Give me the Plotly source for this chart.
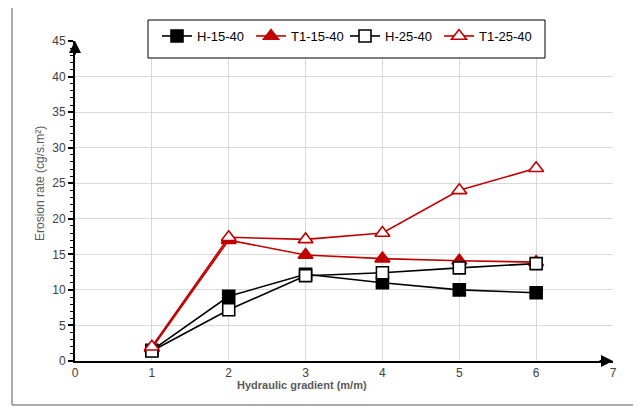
import plotly.graph_objects as go

x_vals = [1, 2, 3, 4, 5, 6]
h_15_40 = [1.5, 9.1, 12.2, 11.0, 10.0, 9.6]
t1_15_40 = [1.8, 17.0, 14.9, 14.4, 14.1, 13.9]
h_25_40 = [1.4, 7.2, 12.0, 12.4, 13.1, 13.7]
t1_25_40 = [2.0, 17.4, 17.1, 18.0, 24.0, 27.1]

x_ticks = [0, 1, 2, 3, 4, 5, 6, 7]
y_ticks = [0, 5, 10, 15, 20, 25, 30, 35, 40, 45]

RED = "#C00000"
FONT = "Liberation Sans, Arial, sans-serif"

fig = go.Figure()

def add(name, y, color, symbol, fill, lcolor):
    fig.add_trace(go.Scatter(
        x=x_vals, y=y, name=name, mode="lines+markers",
        line=dict(color=color, width=1.6),
        marker=dict(symbol=symbol, size=12 if "square" in symbol else 13,
                    color=fill, line=dict(color=lcolor, width=1.6)),
        cliponaxis=False,
    ))

add("H-15-40", h_15_40, "black", "square", "black", "black")
add("T1-15-40", t1_15_40, RED, "triangle-up", RED, RED)
add("H-25-40", h_25_40, "black", "square", "white", "black")
add("T1-25-40", t1_25_40, RED, "triangle-up", "white", RED)

OFF = 8  # page body margin
W, H = 641, 409
# target plot area in page pixels
PX0, PX1, PY0, PY1 = 75, 613, 41, 361
L = PX0 - OFF
T = PY0 - OFF
R = W - (PX1 - OFF)
B = H - (PY1 - OFF)
pw, ph = PX1 - PX0, PY1 - PY0

def px_x(p):
    return (p - PX0) / pw

def px_y(p):
    return (PY1 - p) / ph

fig.update_layout(
    width=W, height=H,
    margin=dict(l=L, r=R, t=T, b=B, autoexpand=False),
    paper_bgcolor="white", plot_bgcolor="white",
    font=dict(family=FONT, size=12, color="#404040"),
    showlegend=True,
    legend=dict(
        orientation="h", x=px_x(157), y=px_y(21), xanchor="left", yanchor="top",
        borderwidth=0, bgcolor="rgba(0,0,0,0)",
        font=dict(family=FONT, size=13, color="black"),
        entrywidth=49, entrywidthmode="pixels",
        tracegroupgap=0,
    ),
    xaxis=dict(
        range=[0, 7], tickvals=x_ticks, ticktext=[str(v) for v in x_ticks],
        showgrid=True, gridcolor="#d9d9d9", gridwidth=1,
        showline=True, linecolor="black", linewidth=2,
        zeroline=False, ticks="", tickfont=dict(size=12, color="#404040"),
    ),
    yaxis=dict(
        range=[0, 45], tickvals=y_ticks, ticktext=[str(v) for v in y_ticks],
        showgrid=True, gridcolor="#d9d9d9", gridwidth=1,
        showline=True, linecolor="black", linewidth=2,
        zeroline=False, ticks="outside", ticklen=5, tickwidth=1.5, tickcolor="black",
        minor=dict(dtick=1, ticks="outside", ticklen=3, tickwidth=1, tickcolor="black",
                   showgrid=False),
        tickfont=dict(size=12, color="#404040"),
    ),
)

# axis titles
fig.add_annotation(text="<b>Hydraulic gradient (m/m)</b>", xref="paper", yref="paper",
                   x=px_x(302), y=px_y(393), showarrow=False,
                   font=dict(family=FONT, size=11, color="#595959"))
fig.add_annotation(text="Erosion rate (cg/s.m²)", xref="paper", yref="paper",
                   x=px_x(31), y=px_y(184), showarrow=False, textangle=-90,
                   font=dict(family=FONT, size=12, color="#595959"))

# arrow heads on axes
fig.add_annotation(x=7, y=0, xref="x", yref="y", ax=-15, ay=0, showarrow=True,
                   arrowhead=2, arrowsize=1.2, arrowwidth=2, arrowcolor="black", text="")
fig.add_annotation(x=0, y=45, xref="x", yref="y", ax=0, ay=15, showarrow=True,
                   arrowhead=2, arrowsize=1.2, arrowwidth=2, arrowcolor="black", text="")

# legend box (white background, black border)
fig.add_shape(type="rect", xref="paper", yref="paper",
              x0=px_x(148), x1=px_x(545), y0=px_y(58), y1=px_y(20),
              line=dict(color="black", width=1), fillcolor="white", layer="above")

# outer chart border
fig.add_shape(type="rect", xref="paper", yref="paper",
              x0=px_x(12), x1=px_x(637), y0=px_y(405), y1=px_y(4),
              line=dict(color="#595959", width=1), fillcolor="rgba(0,0,0,0)", layer="below")

fig.write_html("out.html")
